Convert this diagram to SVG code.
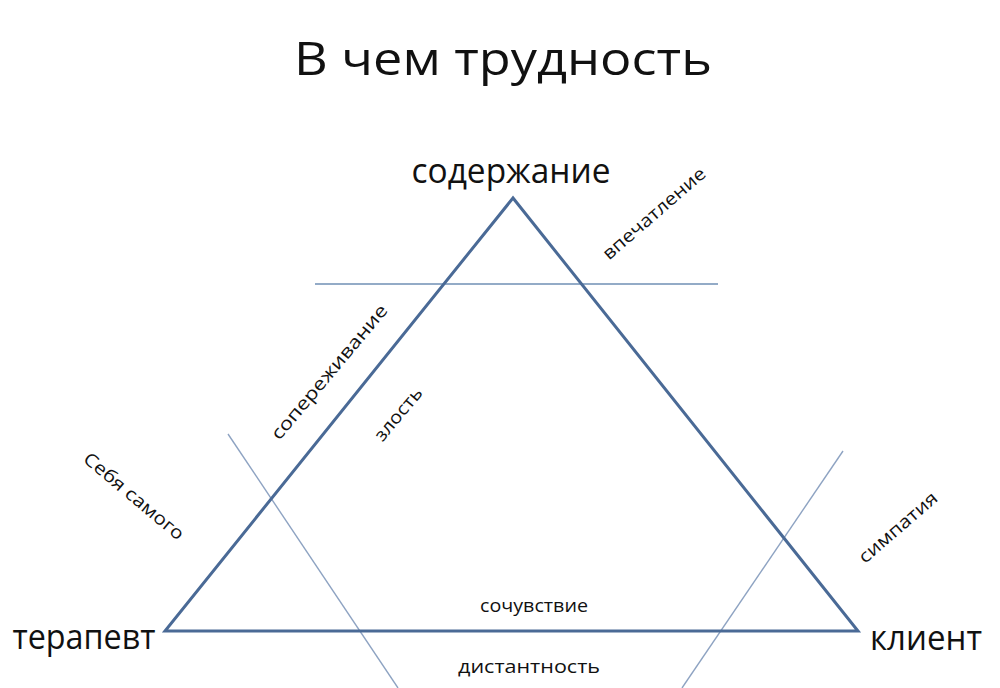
<svg xmlns="http://www.w3.org/2000/svg" width="1000" height="688" viewBox="0 0 1000 688">
<style>
text{font-family:"Open Sans","Liberation Sans",sans-serif;fill:#111}
.t{font-size:46px}
.n{font-size:34px}
.s{font-size:18px}
.tri{fill:none;stroke:#4a6a96;stroke-width:3;stroke-linejoin:miter}
.thin{stroke:#8ea3c2;stroke-width:1.4}
.h{stroke:#6f8fb5;stroke-width:1.4}
</style>
<rect width="1000" height="688" fill="#fff"/>
<text class="t" x="503" y="75" text-anchor="middle" textLength="418" lengthAdjust="spacingAndGlyphs">В чем трудность</text>
<g id="connectors">
<line class="h" x1="315" y1="284" x2="718" y2="284"/>
<line class="thin" x1="228" y1="434" x2="398" y2="688"/>
<line class="thin" x1="843" y1="451" x2="682" y2="688"/>
<polygon class="tri" points="513,198 165,631 858,631"/>
</g>
<g id="content"><text class="n" x="511" y="183" text-anchor="middle" textLength="199" lengthAdjust="spacingAndGlyphs">содержание</text></g>
<g id="therapist"><text class="n" x="84" y="649" text-anchor="middle" textLength="143" lengthAdjust="spacingAndGlyphs">терапевт</text></g>
<g id="client"><text class="n" x="926" y="650" text-anchor="middle" textLength="112" lengthAdjust="spacingAndGlyphs">клиент</text></g>
<g id="sochuvstvie"><text class="s" x="534" y="612" text-anchor="middle" textLength="108" lengthAdjust="spacingAndGlyphs">сочувствие</text></g>
<g id="distantnost"><text class="s" x="529" y="673" text-anchor="middle" textLength="142" lengthAdjust="spacingAndGlyphs">дистантность</text></g>
<g id="vpechatlenie"><text class="s" transform="translate(658,218) rotate(-41)" x="0" y="0" text-anchor="middle" textLength="130" lengthAdjust="spacingAndGlyphs">впечатление</text></g>
<g id="soperezhivanie"><text class="s" transform="translate(334,376) rotate(-50)" x="0" y="0" text-anchor="middle" textLength="170" lengthAdjust="spacingAndGlyphs">сопереживание</text></g>
<g id="zlost"><text class="s" transform="translate(403,418) rotate(-50)" x="0" y="0" text-anchor="middle" textLength="64" lengthAdjust="spacingAndGlyphs">злость</text></g>
<g id="sebya"><text class="s" transform="translate(130,501) rotate(40)" x="0" y="0" text-anchor="middle" textLength="125" lengthAdjust="spacingAndGlyphs">Себя самого</text></g>
<g id="simpatiya"><text class="s" transform="translate(902,532) rotate(-41)" x="0" y="0" text-anchor="middle" textLength="98" lengthAdjust="spacingAndGlyphs">симпатия</text></g>
</svg>
